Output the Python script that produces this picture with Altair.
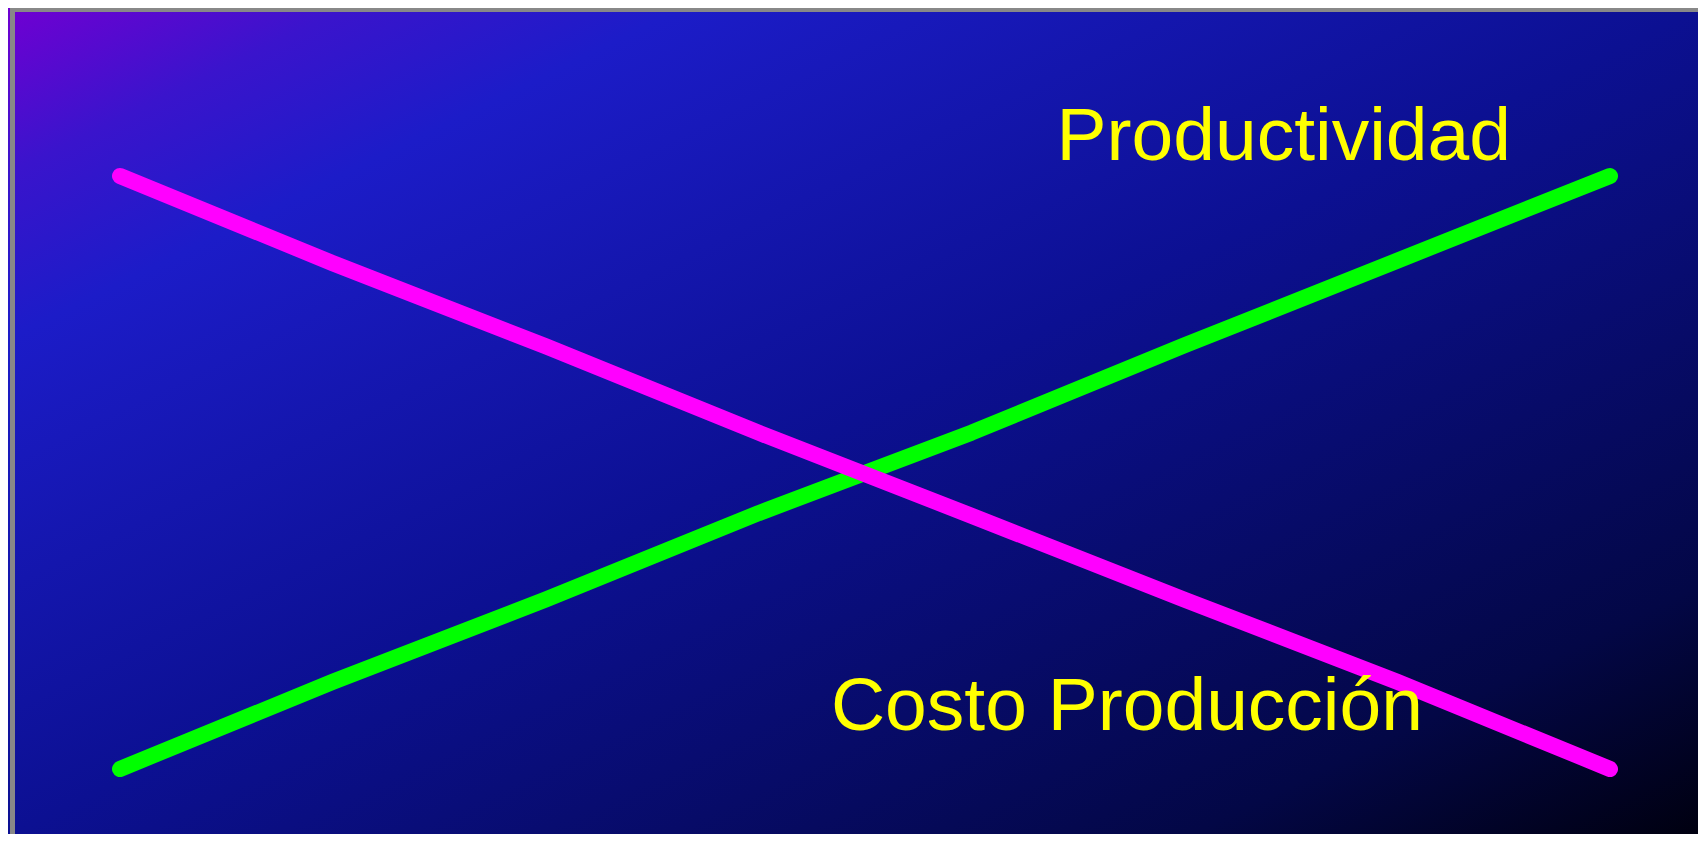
import altair as alt
import pandas as pd

# Data
steps = [1, 2, 3, 4, 5, 6, 7, 8]
productividad = [0.0, 1.03, 2.0, 3.02, 3.97, 5.0, 6.0, 7.0]
costo_produccion = [7.0, 5.97, 4.99, 3.97, 2.99, 2.0, 1.03, 0.0]
labels = ["Productividad", "Costo Producción"]

W, H = 1690, 826

df_p = pd.DataFrame({"step": steps, "value": productividad})
df_c = pd.DataFrame({"step": steps, "value": costo_produccion})
df_one = pd.DataFrame({"k": [0]})

xs = alt.Scale(domain=[1, 8], range=[112, 1602])
ys = alt.Scale(domain=[0, 7], range=[761, 168])

gradient = alt.LinearGradient(
    gradient="linear",
    stops=[
        alt.GradientStop(color="#7000d2", offset=0),
        alt.GradientStop(color="#3a14cc", offset=0.1),
        alt.GradientStop(color="#1c1cc8", offset=0.2),
        alt.GradientStop(color="#0c1092", offset=0.5),
        alt.GradientStop(color="#030746", offset=0.85),
        alt.GradientStop(color="#000010", offset=1),
    ],
    x1=0, y1=0, x2=1, y2=1,
)

bg = alt.Chart(df_one).mark_rect(fill=gradient).encode(
    x=alt.value(0), x2=alt.value(W), y=alt.value(0), y2=alt.value(H)
)

border = alt.Chart(df_one).mark_rect(
    fill="transparent", stroke="#888888", strokeWidth=5
).encode(
    x=alt.value(4.5), x2=alt.value(W + 20), y=alt.value(1.5), y2=alt.value(H + 20)
)

green = alt.Chart(df_p).mark_line(
    color="#00ff00", strokeWidth=16, strokeCap="round", strokeJoin="round"
).encode(
    x=alt.X("step:Q", scale=xs, axis=None),
    y=alt.Y("value:Q", scale=ys, axis=None),
)

magenta = alt.Chart(df_c).mark_line(
    color="#ff00ff", strokeWidth=16, strokeCap="round", strokeJoin="round"
).encode(
    x=alt.X("step:Q", scale=xs, axis=None),
    y=alt.Y("value:Q", scale=ys, axis=None),
)

txt_style = dict(font="Liberation Sans", fontSize=75, color="#ffff00",
                 align="left", baseline="alphabetic")

t1 = alt.Chart(df_one).mark_text(text=labels[0], **txt_style).encode(
    x=alt.datum(5.40, scale=xs), y=alt.datum(7.19, scale=ys)
)
t2 = alt.Chart(df_one).mark_text(text=labels[1], **txt_style).encode(
    x=alt.datum(4.34, scale=xs), y=alt.datum(0.46, scale=ys)
)

chart = alt.layer(bg, border, green, magenta, t1, t2).properties(
    width=W, height=H, autosize=alt.AutoSizeParams(type="none"), padding=0,
    background="#0c1092",
).configure_view(stroke=None)

chart.save("out.html", embed_options={"renderer": "svg", "actions": False})
